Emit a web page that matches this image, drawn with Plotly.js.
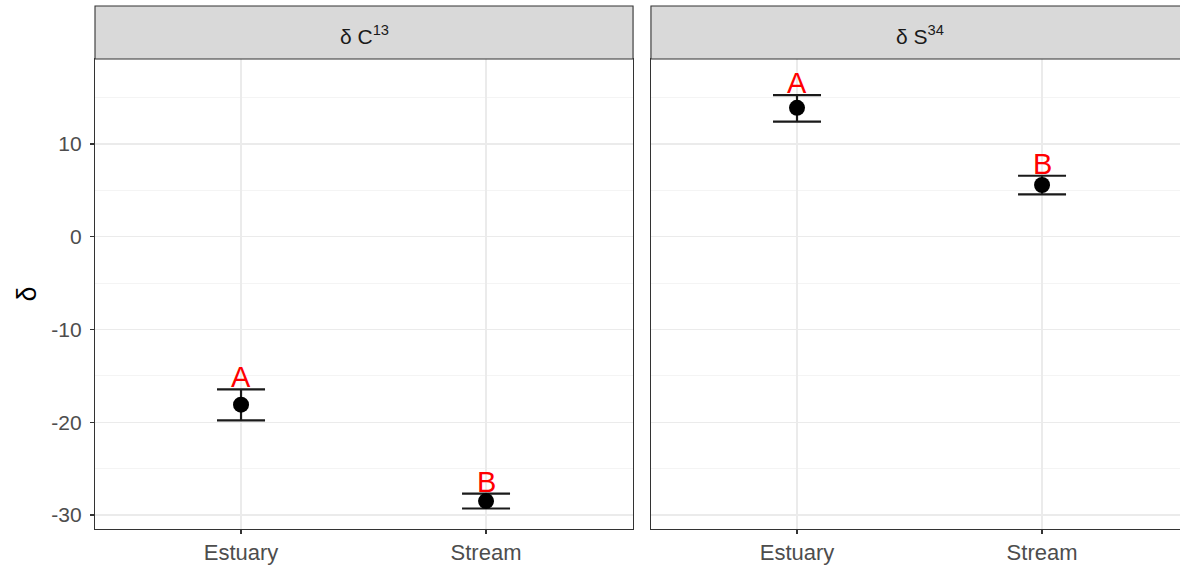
<!DOCTYPE html>
<html>
<head>
<meta charset="utf-8">
<script src="https://cdn.plot.ly/plotly-3.0.1.min.js"></script>
<style>html,body{margin:0;padding:0;background:#fff;}#chart{width:1180px;height:571px;}</style>
</head>
<body>
<div id="chart"></div>
<script>
// ---- data ----
const categories = ['Estuary', 'Stream'];
const panelTitles = ['δ C<sup>13</sup>', 'δ S<sup>34</sup>'];

const c13Mean  = [-18.1, -28.5];
const c13Upper = [-16.45, -27.7];
const c13Lower = [-19.8, -29.3];
const c13Letters = ['A', 'B'];

const s34Mean  = [13.9, 5.58];
const s34Upper = [15.27, 6.58];
const s34Lower = [12.41, 4.57];
const s34Letters = ['A', 'B'];

const yTickVals = [-30, -20, -10, 0, 10];
const yTickText = ['-30', '-20', '-10', '0', '10'];
const yMinorVals = [-25, -15, -5, 5, 15];

// ---- helpers ----
const FONT = 'Liberation Sans, Arial, sans-serif';
function pointTrace(mean, upper, lower, xa, ya) {
  return {
    type: 'scatter', mode: 'markers',
    x: categories, y: mean, xaxis: xa, yaxis: ya,
    marker: {color: '#000000', size: 16},
    error_y: {
      type: 'data', symmetric: false,
      array: upper.map((u, i) => u - mean[i]),
      arrayminus: mean.map((m, i) => m - lower[i]),
      color: '#1a1a1a', thickness: 2.2, width: 24
    },
    hoverinfo: 'skip', showlegend: false
  };
}
function letterAnns(upper, letters, xr, yr) {
  return letters.map((t, i) => ({
    x: categories[i], y: upper[i], xref: xr, yref: yr,
    text: t, showarrow: false, yanchor: 'bottom', xanchor: 'center',
    yshift: -5, borderpad: 0,
    font: {family: FONT, size: 29, color: '#FF0000'}
  }));
}

const d1 = [0, 0.4959];
const d2 = [0.5124, 1];
const stripTop = 1.1128;
const p2End = 1.0083;

const tickFont = {family: FONT, size: 21, color: '#4D4D4D'};
const xTickFont = {family: FONT, size: 22, color: '#4D4D4D'};

const baseX = {
  type: 'category', showgrid: true, gridcolor: '#EBEBEB', gridwidth: 1.1,
  ticks: 'outside', ticklen: 4, tickcolor: '#333333', tickwidth: 1.1,
  showline: true, linecolor: '#333333', linewidth: 1.1, mirror: true,
  zeroline: false, tickfont: xTickFont, fixedrange: true, ticklabelstandoff: -1
};
const baseY = {
  range: [-31.51, 19.17], tickmode: 'array', tickvals: yTickVals, ticktext: yTickText,
  showgrid: true, gridcolor: '#EBEBEB', gridwidth: 1.1,
  minor: {tickmode: 'array', tickvals: yMinorVals, showgrid: true, gridcolor: '#EBEBEB', gridwidth: 0.55, ticks: ''},
  zeroline: false, showline: true, linecolor: '#333333', linewidth: 1.1,
  fixedrange: true
};

const layout = {
  width: 1180, height: 571,
  margin: {l: 95, r: 0, t: 59, b: 42, pad: 0},
  paper_bgcolor: '#FFFFFF', plot_bgcolor: '#FFFFFF',
  font: {family: FONT},
  showlegend: false,
  xaxis: Object.assign({}, baseX, {domain: d1, anchor: 'y', range: [-0.596, 1.6]}),
  xaxis2: Object.assign({}, baseX, {domain: d2, anchor: 'y2', range: [-0.596, 1.563]}),
  yaxis: Object.assign({}, baseY, {
    anchor: 'x', mirror: true,
    ticks: 'outside', ticklen: 4, tickcolor: '#333333', tickwidth: 1.1,
    tickfont: tickFont, ticklabelstandoff: 4,
    title: {text: 'δ', font: {size: 27, color: '#000000', family: FONT}, standoff: 6}
  }),
  yaxis2: Object.assign({}, baseY, {
    anchor: 'x2', matches: 'y', showticklabels: false, ticks: '', mirror: false
  }),
  shapes: [
    {type: 'rect', xref: 'paper', yref: 'paper', x0: d1[0], x1: d1[1], y0: 1, y1: stripTop,
     fillcolor: '#D9D9D9', line: {color: '#333333', width: 1.1}},
    {type: 'rect', xref: 'paper', yref: 'paper', x0: d2[0], x1: p2End, y0: 1, y1: stripTop,
     fillcolor: '#D9D9D9', line: {color: '#333333', width: 1.1}}
  ],
  annotations: [
    {xref: 'paper', yref: 'paper', x: (d1[0] + d1[1]) / 2, y: (1 + stripTop) / 2,
     text: panelTitles[0], showarrow: false, xanchor: 'center', yanchor: 'middle', yshift: -3,
     font: {size: 21, color: '#1A1A1A', family: FONT}},
    {xref: 'paper', yref: 'paper', x: (d2[0] + p2End) / 2, y: (1 + stripTop) / 2,
     text: panelTitles[1], showarrow: false, xanchor: 'center', yanchor: 'middle', yshift: -3,
     font: {size: 21, color: '#1A1A1A', family: FONT}}
  ].concat(letterAnns(c13Upper, c13Letters, 'x', 'y'), letterAnns(s34Upper, s34Letters, 'x2', 'y2'))
};

const data = [
  pointTrace(c13Mean, c13Upper, c13Lower, 'x', 'y'),
  pointTrace(s34Mean, s34Upper, s34Lower, 'x2', 'y2')
];

Plotly.newPlot('chart', data, layout, {staticPlot: true, displayModeBar: false});
</script>
</body>
</html>
